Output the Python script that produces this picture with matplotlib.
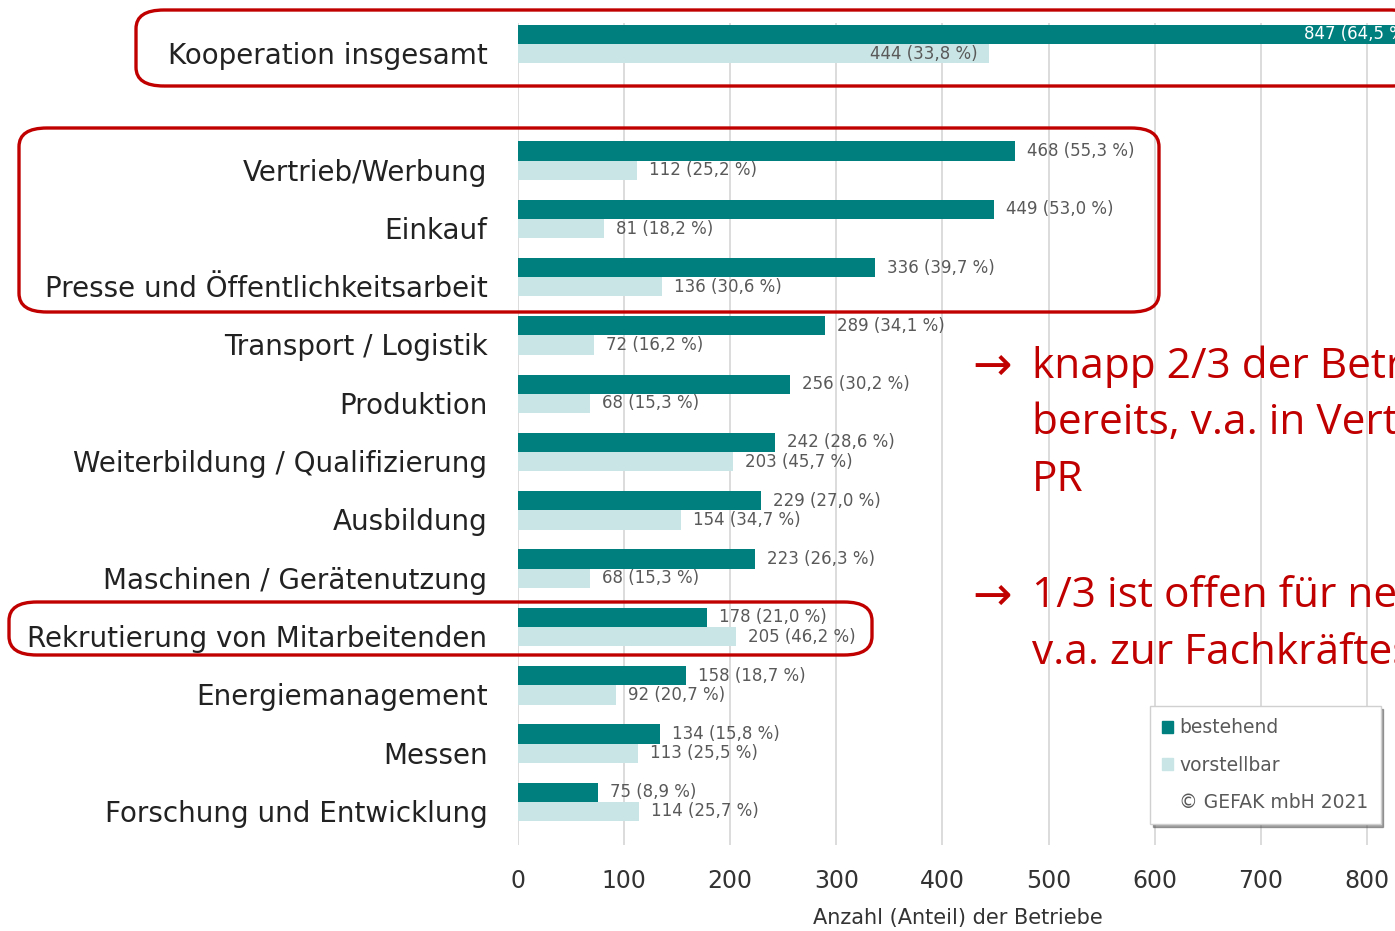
import matplotlib
matplotlib.use('Agg')
import matplotlib.pyplot as plt
import matplotlib.transforms as mtransforms
from matplotlib.patches import FancyBboxPatch, Patch

# Kooperationsfelder, oben nach unten (None = Leerzeile)
categories = ['Kooperation insgesamt', None, 'Vertrieb/Werbung', 'Einkauf',
              'Presse und Öffentlichkeitsarbeit', 'Transport / Logistik', 'Produktion',
              'Weiterbildung / Qualifizierung', 'Ausbildung', 'Maschinen / Gerätenutzung',
              'Rekrutierung von Mitarbeitenden', 'Energiemanagement', 'Messen',
              'Forschung und Entwicklung']
bestehend = [847, None, 468, 449, 336, 289, 256, 242, 229, 223, 178, 158, 134, 75]
bestehend_pct = [64.5, None, 55.3, 53.0, 39.7, 34.1, 30.2, 28.6, 27.0, 26.3, 21.0, 18.7, 15.8, 8.9]
vorstellbar = [444, None, 112, 81, 136, 72, 68, 203, 154, 68, 205, 92, 113, 114]
vorstellbar_pct = [33.8, None, 25.2, 18.2, 30.6, 16.2, 15.3, 45.7, 34.7, 15.3, 46.2, 20.7, 25.5, 25.7]
xticks = [0, 100, 200, 300, 400, 500, 600, 700, 800]

DARK = '#007f7f'
LIGHT = '#cae5e5'
RED = '#c00000'
GREY = '#595959'

W, H = 1395, 931
fig = plt.figure(figsize=(W / 100, H / 100), dpi=100)
ax = fig.add_axes([518 / W, 1 - 845 / H, 955 / W, (845 - 23) / H])

bh = 0.33
rows = [i for i, c in enumerate(categories) if c is not None]
for i in rows:
    ax.barh(i - bh / 2, bestehend[i], height=bh, color=DARK, zorder=2)
    ax.barh(i + bh / 2, vorstellbar[i], height=bh, color=LIGHT, zorder=2)

def fmt(v, p):
    return f'{v} ({p:.1f} %)'.replace('.', ',')

px = mtransforms.ScaledTranslation
def shifted(dx, dy=0):
    return ax.transData + px(dx / 100, dy / 100, fig.dpi_scale_trans)

for i in rows:
    t1 = fmt(bestehend[i], bestehend_pct[i])
    t2 = fmt(vorstellbar[i], vorstellbar_pct[i])
    if i == 0:
        ax.text(bestehend[i], i - bh / 2, t1, ha='right', va='center', color='white',
                fontsize=12, transform=shifted(-5))
        ax.text(vorstellbar[i], i + bh / 2, t2, ha='right', va='center', color=GREY,
                fontsize=12, transform=shifted(-12))
    else:
        ax.text(bestehend[i], i - bh / 2, t1, ha='left', va='center', color=GREY,
                fontsize=12, transform=shifted(12))
        ax.text(vorstellbar[i], i + bh / 2, t2, ha='left', va='center', color=GREY,
                fontsize=12, transform=shifted(12))

ax.set_xlim(0, 900)
ax.set_ylim(13.74, -0.36)
ax.set_xticks(xticks)
ax.set_xticklabels([str(x) for x in xticks], fontsize=17, color='#333333')
ax.set_yticks(rows)
ax.set_yticklabels([categories[i] for i in rows], fontsize=20, color='#222222')
ax.tick_params(axis='x', length=0, pad=17)
ax.tick_params(axis='y', length=0, pad=22)
for lab in ax.get_yticklabels():
    lab.set_transform(lab.get_transform() + px(0, -9 / 100, fig.dpi_scale_trans))
ax.xaxis.grid(True, color='#d9d9d9', linewidth=1.3, zorder=0)
ax.set_axisbelow(True)
for s in ax.spines.values():
    s.set_visible(False)

fig.text(958 / W, 1 - 918 / H, 'Anzahl (Anteil) der Betriebe', ha='center', va='center',
         fontsize=15, color='#333333')

# Legende mit Quellenangabe
handles = [Patch(color=DARK), Patch(color=LIGHT), Patch(alpha=0)]
leg = ax.legend(handles, ['bestehend', 'vorstellbar', '© GEFAK mbH 2021'],
                loc='upper left', bbox_to_anchor=(1150 / W, 1 - 706 / H),
                bbox_transform=fig.transFigure, borderaxespad=0, frameon=True,
                shadow=True, fancybox=False, fontsize=13.5, handlelength=0.6,
                handleheight=0.6, handletextpad=0.3, labelspacing=0.98, borderpad=0.65,
                labelcolor=GREY)
leg.get_frame().set_edgecolor('#d0d0d0')

# rote Rahmen um die hervorgehobenen Zeilen
def frame(x0, y0, x1, y1):
    fig.patches.append(FancyBboxPatch(
        (x0 / W, 1 - y1 / H), (x1 - x0) / W, (y1 - y0) / H,
        boxstyle='round,pad=0,rounding_size=0.02', transform=fig.transFigure,
        fill=False, edgecolor=RED, linewidth=2.4, zorder=5))

frame(136, 10, 1420, 86)
frame(19, 128, 1159, 312)
frame(9, 602, 872, 655)

# Kernaussagen
fam = ['Open Sans', 'DejaVu Sans']
notes = [(367, 'knapp 2/3 der Betriebe kooperieren\nbereits, v.a. in Vertrieb, Einkauf und\nPR'),
         (597, '1/3 ist offen für neue Kooperationen,\nv.a. zur Fachkräftesicherung')]
for y, txt in notes:
    fig.text(972 / W, 1 - y / H, '→', fontsize=34, color=RED, family=['DejaVu Sans'],
             va='center', ha='left')
    fig.text(1032 / W, 1 - y / H, txt, fontsize=30.5, color=RED, family=fam,
             va='top', ha='left', linespacing=1.46,
             transform=fig.transFigure + px(0, 22 / 100, fig.dpi_scale_trans))

fig.savefig('out.png', dpi=100)
